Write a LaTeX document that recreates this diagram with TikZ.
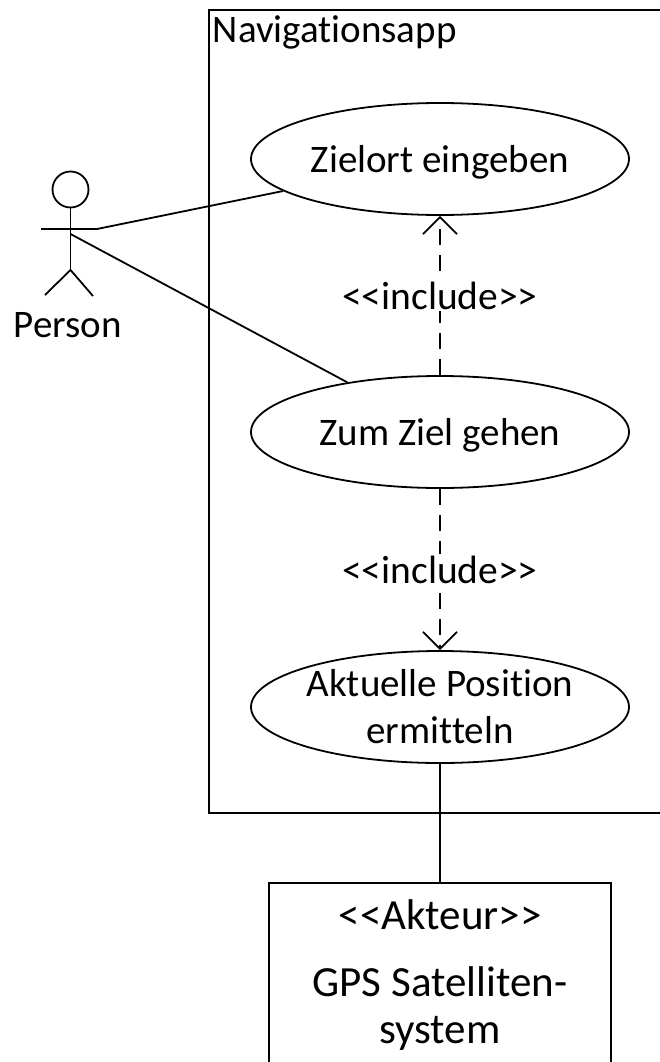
\documentclass[tikz,border=0pt]{standalone}
\usepackage{fontspec}
\setmainfont[Ligatures=NoCommon]{Carlito}
\usetikzlibrary{arrows.meta,shapes.geometric}

\tikzset{
    usecase/.style={draw, ellipse, fill=white, line width=1.8pt, minimum width=378pt, minimum height=112pt, inner sep=0pt, align=center},
    oneline/.style={text height=34pt, text depth=7pt},
    includeline/.style={line width=1.8pt, dash pattern=on 16pt off 10pt, -{Straight Barb[length=17pt,width=34pt,line width=1.8pt]}},
    includelabel/.style={fill=white, inner sep=2pt, font=\fontsize{39.5}{47}\selectfont},
    gpstext/.style={font=\fontsize{43}{47}\selectfont, align=center}
}

\begin{document}
\begin{tikzpicture}[x=1pt, y=-1pt, line width=1.8pt, font=\fontsize{39}{47}\selectfont]

    \useasboundingbox (0, 0) rectangle (660, 1062);

    % System
    \draw (660, 10) -- (209, 10) -- (209, 813) -- (660, 813);
    \node[anchor=west, inner sep=0pt] (app) at (212, 32) {Navigationsapp};

    % Use cases
    \node[usecase, oneline] (zielort) at (440, 159) {Zielort eingeben};
    \node[usecase, oneline] (gehen) at (440, 432) {Zum Ziel gehen};
    \node[usecase] (position) at (440, 707) {Aktuelle Position\\ermitteln};

    % Person
    \node[draw, circle, minimum size=36pt, inner sep=0pt] (head) at (70.5, 189.5) {};
    \coordinate (hip) at (70.5, 270);
    \coordinate (armleft) at (41, 229);
    \coordinate (armright) at (97, 229);
    \coordinate (chest) at (70.5, 234);
    \draw (head) -- (hip);
    \draw (armleft) -- (armright);
    \draw (hip) -- (45, 295);
    \draw (hip) -- (93, 296);
    \node (person) at (68, 325) {Person};

    % GPS
    \node[draw, minimum width=342pt, minimum height=200pt, anchor=north] (gps) at (440, 882) {};
    \node[gpstext] (akteur) at (440, 915) {<{}<Akteur>{}>};
    \node[gpstext] (satellit) at (440, 1009) {GPS Satelliten-\\system};

    % Connectors
    \draw (armright) -- (zielort);
    \draw (chest) -- (gehen);
    \draw (position) -- (gps.north -| position);

    \draw[includeline] (gehen) -- node[includelabel] (inc1) {<{}<include>{}>} (zielort);
    \draw[includeline] (gehen) -- node[includelabel] (inc2) {<{}<include>{}>} (position);

\end{tikzpicture}
\end{document}
